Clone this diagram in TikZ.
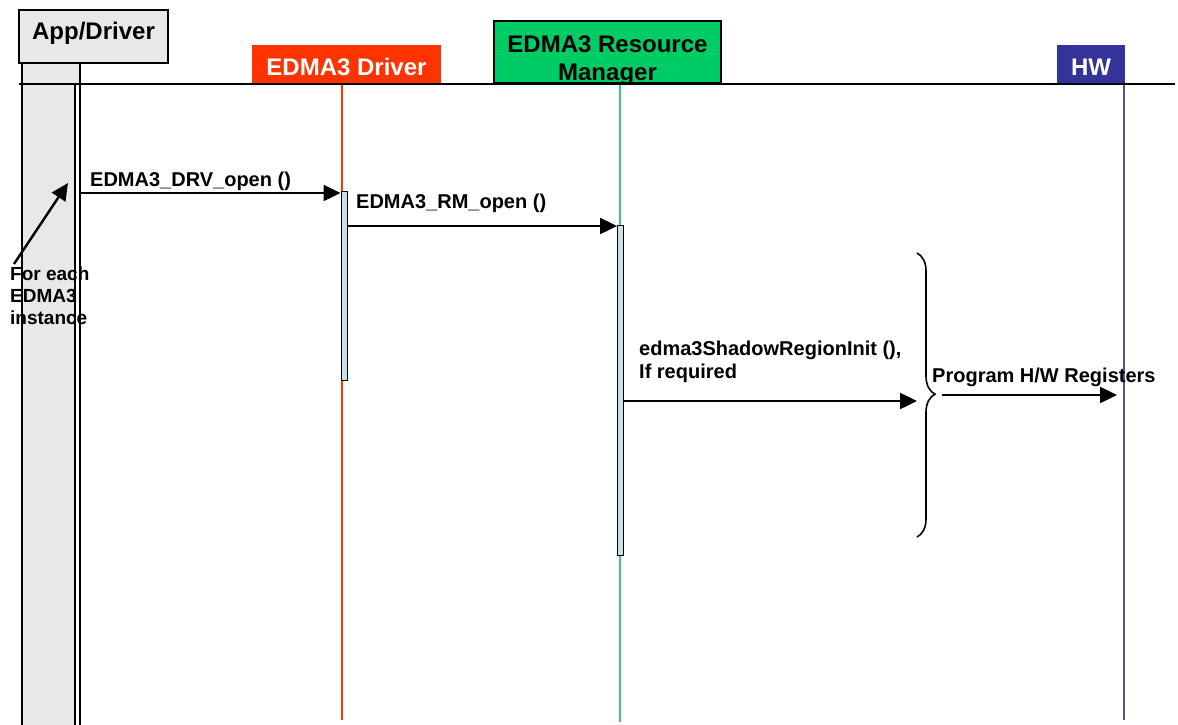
\documentclass[tikz,border=0pt]{standalone}
\usepackage{fontspec}
\setmainfont{Liberation Sans}
\usepackage{xcolor}
\usetikzlibrary{positioning,calc,arrows.meta,decorations.pathreplacing}

\definecolor{appgray}{HTML}{E8E8E8}
\definecolor{drvred}{HTML}{FF3300}
\definecolor{rmgreen}{HTML}{00CC66}
\definecolor{rmline}{HTML}{33CC77}
\definecolor{hwblue}{HTML}{333399}
\definecolor{actblue}{HTML}{C6E2E6}

\begin{document}
\begin{tikzpicture}[x=1pt,y=-1pt,
					hdr/.style={
						rectangle, inner sep=0pt,
						font=\fontsize{24}{28}\selectfont\bfseries
					},
					actbar/.style={
						rectangle, draw=black, line width=1pt,
						fill=actblue, inner sep=0pt, minimum width=6pt
					},
					lifeline/.style={line width=1.3pt},
					msg/.style={
						line width=2.4pt, -{Triangle[length=17pt,width=16pt]}
					},
					msglbl/.style={
						font=\fontsize{20}{23}\selectfont\bfseries,
						inner sep=0pt, anchor=base west, align=left
					}
					]
					
					\useasboundingbox (0,0) rectangle (1178,724);
					
					% --- App/Driver ---
					\node[rectangle, draw=black, line width=1.2pt, fill=appgray, inner sep=0pt,
						minimum width=58pt, minimum height=677pt] (appCol) at (51,401.5) {};
					\node[hdr, draw=black, line width=1.5pt, fill=appgray,
						minimum width=149pt, minimum height=53pt,
						text height=17pt, text depth=12pt] (appHdr) at (93.5,36.5) {App/Driver};
					\node[rectangle, draw=black, line width=1.2pt, fill=white, inner sep=0pt,
						minimum width=5pt, minimum height=650pt] (appBar) at (77.5,409) {};
					
					% --- EDMA3 Driver ---
					\node[hdr, fill=drvred, text=white,
						minimum width=189pt, minimum height=38pt,
						text height=23pt, text depth=1pt] (drvHdr) at (346.5,64) {EDMA3 Driver};
					\coordinate (drvTop) at (342,84);
					\coordinate (drvEnd) at (342,720);
					\draw[lifeline, drvred] (drvTop) -- (drvEnd);
					
					% --- EDMA3 Resource Manager ---
					\node[rectangle, draw=black, line width=2pt, fill=rmgreen,
						minimum width=227pt, minimum height=62pt] (rmHdr) at (607.5,52) {};
					\begin{scope}
						\clip (rmHdr.south west) rectangle (rmHdr.north east);
						\node[hdr, anchor=base, align=center] (rmTxt) at (607.5,80.5) {EDMA3 Resource\\Manager};
					\end{scope}
					\coordinate (rmTop) at (620,84);
					\coordinate (rmEnd) at (620,722);
					\draw[lifeline, rmline] (rmTop) -- (rmEnd);
					
					% --- HW ---
					\node[hdr, fill=hwblue, text=white,
						minimum width=68pt, minimum height=38pt,
						text height=23pt, text depth=1pt] (hwHdr) at (1091,64) {HW};
					\coordinate (hwTop) at (1124,84);
					\coordinate (hwEnd) at (1124,720);
					\draw[lifeline, hwblue!85] (hwTop) -- (hwEnd);
					
					% header line
					\coordinate (lineL) at (19,84);
					\coordinate (lineR) at (1175,84);
					\draw[line width=1.5pt] (lineL) -- (lineR);
					
					% activation bars
					\node[actbar, minimum height=189pt] (drvBar) at (344,285.5) {};
					\node[actbar, minimum height=330pt] (rmBar) at (620.5,390) {};
					
					% --- messages ---
					\coordinate (y1) at (0,193);
					\coordinate (y2) at (0,226);
					\coordinate (y3) at (0,401);
					\draw[msg] (appBar.east |- y1) -- (drvBar.west |- y1);
					\node[msglbl] (lblDrvOpen) at (90,186) {EDMA3\_DRV\_open ()};
					
					\draw[msg] (drvBar.east |- y2) -- (rmBar.west |- y2);
					\node[msglbl] (lblRmOpen) at (356,208) {EDMA3\_RM\_open ()};
					
					\coordinate (brTop) at (917,253);
					\coordinate (brBot) at (917,537);
					\draw[msg] (rmBar.east |- y3) -- (brTop |- y3);
					\node[msglbl] (lblShadow) at (639,378) {edma3ShadowRegionInit (),\\If required};
					
					\draw[line width=1.6pt, decorate, decoration={brace, amplitude=18pt, aspect=0.497}] (brTop) -- (brBot);
					
					\coordinate (prgS) at (942,395);
					\coordinate (prgE) at (1117,395);
					\draw[msg] (prgS) -- (prgE);
					\node[msglbl] (lblPrg) at (932,382) {Program H/W Registers};
					
					% --- note ---
					\coordinate (noteS) at (14,264);
					\coordinate (noteE) at (68,183);
					\draw[msg] (noteS) -- (noteE);
					\node[msglbl, font=\fontsize{19}{22}\selectfont\bfseries] (lblNote) at (10,324) {For each\\EDMA3\\instance};
					
				\end{tikzpicture}
\end{document}
